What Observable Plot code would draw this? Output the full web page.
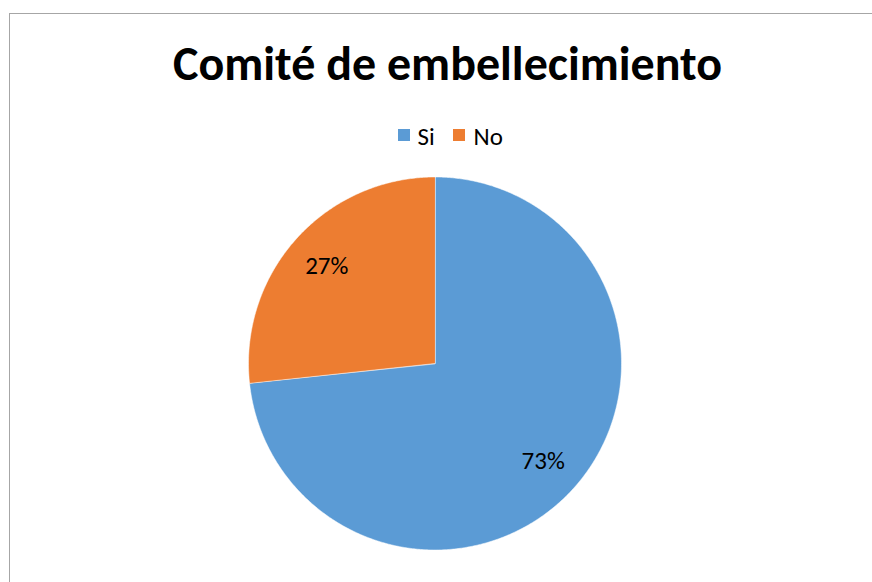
<!DOCTYPE html>
<html>
<head>
<meta charset="utf-8">
<script src="https://cdn.jsdelivr.net/npm/d3@7"></script>
<script src="https://cdn.jsdelivr.net/npm/@observablehq/plot@0.6"></script>
<style>
  html, body { margin: 0; padding: 0; background: #fff; overflow: hidden; width: 872px; height: 582px; }
  #frame { position: absolute; left: 9px; top: 13px; width: 900px; height: 620px; border: 1px solid #A6A6A6; box-sizing: border-box; }
  #chart { position: absolute; left: 0; top: 0; }
</style>
</head>
<body>
<div id="frame"></div>
<div id="chart"></div>
<script>
const title = "Comité de embellecimiento";
const categories = ["Si", "No"];
const values = [73.3, 26.7];
const labels = ["73%", "27%"];
const colors = ["#5B9BD5", "#ED7D31"];

const W = 872, H = 582;
const cx = 434.5, cy = 363, r = 186.5;
const font = "Carlito, Calibri, Lato, 'Open Sans', sans-serif";

const total = d3.sum(values);
// angles clockwise from 12 o'clock
const slices = [];
let start = 0;
categories.forEach((c, i) => {
  const a0 = start, a1 = start + values[i] / total * 2 * Math.PI;
  slices.push({key: c, a0, a1, label: labels[i]});
  start = a1;
});
const pt = (a, rr) => ({x: cx + rr * Math.sin(a), y: cy - rr * Math.cos(a)});
const pts = [];
for (const s of slices) {
  pts.push({key: s.key, ...pt(0, 0)});
  const n = Math.max(2, Math.ceil((s.a1 - s.a0) / (Math.PI / 360)));
  for (let k = 0; k <= n; k++) pts.push({key: s.key, ...pt(s.a0 + (s.a1 - s.a0) * k / n, r)});
}
const labelPts = slices.map(s => ({label: s.label, ...pt((s.a0 + s.a1) / 2, r * 0.78)}));

// legend layout
const legend = [
  {key: "Si", x: 398, tx: 417},
  {key: "No", x: 453, tx: 473}
];

const chart = Plot.plot({
  width: W, height: H,
  margin: 0,
  x: {domain: [0, W], range: [0, W], axis: null},
  y: {domain: [0, H], range: [0, H], axis: null},
  color: {domain: categories, range: colors},
  style: {fontFamily: font, background: "transparent"},
  marks: [
    Plot.line(pts, {x: "x", y: "y", z: "key", fill: "key", stroke: "white", strokeWidth: 0.5, curve: "linear-closed"}),
    Plot.text(labelPts, {x: "x", y: "y", text: "label", fontSize: 25, fill: "#000", fontFamily: font}),
    Plot.text([title], {x: () => 447, y: () => 64, text: d => d, fontSize: 48, fontWeight: "bold", fill: "#000", fontFamily: font}),
    Plot.rect(legend, {x1: "x", x2: d => d.x + 12, y1: () => 129, y2: () => 141, fill: "key"}),
    Plot.text(legend, {x: "tx", y: () => 136, text: "key", textAnchor: "start", fontSize: 25, fill: "#000", fontFamily: font})
  ]
});
document.getElementById("chart").appendChild(chart);
</script>
</body>
</html>
